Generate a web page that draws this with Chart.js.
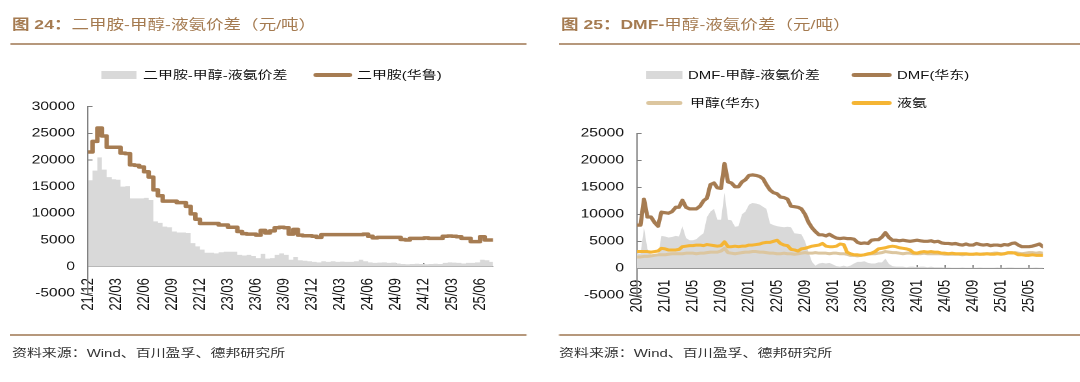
<!DOCTYPE html>
<html><head><meta charset="utf-8">
<script src="https://cdn.jsdelivr.net/npm/chart.js@4.4.1/dist/chart.umd.min.js"></script>
<style>
html,body{margin:0;padding:0;background:#fff;width:1080px;height:382px;overflow:hidden;}
#wrap{position:absolute;left:0;top:0;width:830.77px;height:382px;transform:scaleX(1.3);transform-origin:0 0;}
.t{position:absolute;font-family:"Liberation Sans","Noto Sans CJK SC",sans-serif;white-space:nowrap;}
.title{font-size:13.5px;line-height:16px;color:#a57b51;top:17px;}
.title b{font-weight:700;}
.rule{position:absolute;height:2px;background:#b6987c;}
.leg{font-size:11.5px;line-height:14px;color:#111;}
.sw{position:absolute;}
.src{font-size:11.5px;line-height:16px;color:#333;top:345px;}
canvas{position:absolute;}
</style></head>
<body>
<div id="wrap">
  <div class="t title" style="left:9.2px"><b>图 24：</b>二甲胺-甲醇-液氨价差（元/吨）</div>
  <div class="rule" style="left:7.7px;width:397.7px;top:43px"></div>
  <div class="t title" style="left:431.5px"><b>图 25：DMF-</b>甲醇-液氨价差（元/吨）</div>
  <div class="rule" style="left:430px;width:401px;top:43px"></div>

  <div id="legL"></div>
  <div id="legR"></div>

  <canvas id="cL" width="400" height="250" style="left:0;top:90px"></canvas>
  <canvas id="cR" width="411" height="250" style="left:420px;top:90px"></canvas>

  <div class="rule" style="left:7.7px;width:397.7px;top:333.5px"></div>
  <div class="rule" style="left:430px;width:401px;top:333.5px"></div>
  <div class="t src" style="left:9.2px">资料来源：Wind、百川盈孚、德邦研究所</div>
  <div class="t src" style="left:430px">资料来源：Wind、百川盈孚、德邦研究所</div>
</div>
<script>
// ---------- Chart 24: 二甲胺-甲醇-液氨价差 ----------
const dmaLabels = ['二甲胺-甲醇-液氨价差', '二甲胺(华鲁)'];
const dmaDates = [
'2021-12-01','2021-12-16',
'2022-01-01','2022-01-16','2022-02-01','2022-02-16','2022-03-01','2022-03-16','2022-04-01','2022-04-16','2022-05-01','2022-05-16','2022-06-01','2022-06-16','2022-07-01','2022-07-16','2022-08-01','2022-08-16','2022-09-01','2022-09-16','2022-10-01','2022-10-16','2022-11-01','2022-11-16','2022-12-01','2022-12-16',
'2023-01-01','2023-01-16','2023-02-01','2023-02-16','2023-03-01','2023-03-16','2023-04-01','2023-04-16','2023-05-01','2023-05-16','2023-06-01','2023-06-16','2023-07-01','2023-07-16','2023-08-01','2023-08-16','2023-09-01','2023-09-16','2023-10-01','2023-10-16','2023-11-01','2023-11-16','2023-12-01','2023-12-16',
'2024-01-01','2024-01-16','2024-02-01','2024-02-16','2024-03-01','2024-03-16','2024-04-01','2024-04-16','2024-05-01','2024-05-16','2024-06-01','2024-06-16','2024-07-01','2024-07-16','2024-08-01','2024-08-16','2024-09-01','2024-09-16','2024-10-01','2024-10-16','2024-11-01','2024-11-16','2024-12-01','2024-12-16',
'2025-01-01','2025-01-16','2025-02-01','2025-02-16','2025-03-01','2025-03-16','2025-04-01','2025-04-16','2025-05-01','2025-05-16','2025-06-01','2025-06-16','2025-07-01','2025-07-13'
];
const dmaPrice = [
21500,21500,23500,26000,24500,22400,22400,22400,21300,21200,
19100,19000,18700,17800,16800,14400,13300,12300,12300,12300,
12000,12000,11300,9900,8900,8100,8100,8100,8100,7800,
7800,7400,7400,6600,6200,6100,6100,5900,6800,6300,
6700,7300,7400,7300,6100,7000,5900,5800,5800,5700,
5500,6000,6000,6000,6000,6000,6000,6000,6000,6000,
6100,5700,5400,5500,5500,5500,5500,5500,5100,5000,
5300,5300,5300,5400,5300,5300,5300,5700,5750,5700,
5600,5300,5300,4700,4700,5600,5000,5000
];
const dmaSpread = [
16300,16200,18000,20500,18200,16800,16400,16300,15000,15100,
12800,12800,12800,12900,12500,8500,8200,7500,7400,6600,
6400,6400,6300,4400,3800,3200,2600,2600,2500,2700,
2800,2800,2800,2200,2100,2200,2000,1600,2400,1500,
1600,2200,2500,2200,1300,1800,1200,1100,1000,900,
800,1000,900,1000,900,950,900,900,1000,1300,
1000,800,700,750,800,700,750,600,500,450,
500,550,500,450,500,550,500,700,800,750,
700,600,700,700,800,1300,1200,900
];
const dmaTickLabels = ['21/12','22/03','22/06','22/09','22/12','23/03','23/06','23/09','23/12','24/03','24/06','24/09','24/12','25/03','25/06'];
const dmaYTicks = [-5000,0,5000,10000,15000,20000,25000,30000];

// ---------- Chart 25: DMF-甲醇-液氨价差 ----------
const dmfLabels = ['DMF-甲醇-液氨价差', 'DMF(华东)', '甲醇(华东)', '液氨'];
const dmfDates = [
'2020-09-01','2020-09-16','2020-10-01','2020-10-16','2020-11-01','2020-11-16','2020-12-01','2020-12-16',
'2021-01-01','2021-01-16','2021-02-01','2021-02-16','2021-03-01','2021-03-16','2021-04-01','2021-04-16','2021-05-01','2021-05-16','2021-06-01','2021-06-16','2021-07-01','2021-07-16','2021-08-01','2021-08-16','2021-09-01','2021-09-16','2021-10-01','2021-10-16','2021-11-01','2021-11-16','2021-12-01','2021-12-16',
'2022-01-01','2022-01-16','2022-02-01','2022-02-16','2022-03-01','2022-03-16','2022-04-01','2022-04-16','2022-05-01','2022-05-16','2022-06-01','2022-06-16','2022-07-01','2022-07-16','2022-08-01','2022-08-16','2022-09-01','2022-09-16','2022-10-01','2022-10-16','2022-11-01','2022-11-16','2022-12-01','2022-12-16',
'2023-01-01','2023-01-16','2023-02-01','2023-02-16','2023-03-01','2023-03-16','2023-04-01','2023-04-16','2023-05-01','2023-05-16','2023-06-01','2023-06-16','2023-07-01','2023-07-16','2023-08-01','2023-08-16','2023-09-01','2023-09-16','2023-10-01','2023-10-16','2023-11-01','2023-11-16','2023-12-01','2023-12-16',
'2024-01-01','2024-01-16','2024-02-01','2024-02-16','2024-03-01','2024-03-16','2024-04-01','2024-04-16','2024-05-01','2024-05-16','2024-06-01','2024-06-16','2024-07-01','2024-07-16','2024-08-01','2024-08-16','2024-09-01','2024-09-16','2024-10-01','2024-10-16','2024-11-01','2024-11-16','2024-12-01','2024-12-16',
'2025-01-01','2025-01-16','2025-02-01','2025-02-16','2025-03-01','2025-03-16','2025-04-01','2025-04-16','2025-05-01','2025-05-16','2025-06-01','2025-06-16','2025-07-01'
];
const dmfPrice = [
8000,8000,12800,9500,9500,8500,7800,10400,10300,10200,
10500,11300,11300,12600,11300,11000,11000,11000,11500,12500,
13000,15500,15800,14900,14800,19400,16000,15800,15100,15100,
16000,16400,17200,17300,17200,17000,16600,15500,14500,14000,
13800,13200,13100,12800,11500,11400,11300,11000,10000,8500,
7500,6800,6200,6200,6000,6300,5900,5600,5500,5600,
5500,5500,5400,4800,4600,4700,4600,5200,5300,5300,
5800,6600,5700,5200,5200,5100,5200,5100,5000,5100,
5200,5100,5000,5000,5100,4900,5000,4700,4600,4600,
4500,4600,4400,4300,4500,4300,4300,4600,4400,4300,
4400,4200,4300,4300,4200,4400,4300,4600,4700,4300,
4000,4000,4000,4100,4300,4500,4000
];
const methanolPrice = [
2100,2100,2200,2200,2300,2400,2500,2500,2500,2600,
2700,2700,2700,2700,2800,2800,2800,2700,2800,2800,
2900,3000,3000,3000,3200,3700,2900,2800,2700,2800,
2900,3000,3000,3100,3100,3000,3000,2900,2800,2800,
2700,2700,2800,2700,2700,2600,2700,2800,2900,2800,
2800,2900,2800,2800,2800,2700,2800,2800,2700,2700,
2600,2400,2400,2300,2400,2500,2600,2700,2700,2800,
2900,3100,3000,2900,2900,2800,2700,2800,2800,2700,
2700,2700,2800,2700,2700,2700,2700,2700,2600,2600,
2600,2600,2600,2500,2600,2600,2600,2600,2600,2700,
2700,2700,2800,2800,2700,2700,2800,2800,2900,2800,
2700,2800,2900,2900,2800,2900,2800
];
const ammoniaPrice = [
3100,3100,3100,3100,3000,3100,3200,3700,3600,3400,
3400,3400,3500,4000,4100,4200,4200,4300,4300,4200,
4400,4300,4200,4100,4200,4900,4000,4000,4100,4000,
4100,4100,4300,4300,4400,4500,4700,4800,4800,5000,
5200,4600,4300,4200,3500,3400,3200,3600,3700,3900,
4100,4200,4300,4600,4100,4000,4000,4100,4500,4400,
3000,2700,2500,2500,2400,2500,2700,2800,3100,3600,
3700,3800,4000,4100,4000,3800,3700,3600,3400,2900,
2800,3000,3100,3000,3100,3000,3000,2800,2800,2700,
2800,2700,2700,2700,2700,2600,2600,2700,2600,2600,
2700,2600,2600,2700,2600,2700,2900,2900,2800,2500,
2500,2400,2400,2500,2400,2400,2400
];
const dmfSpread = [
2800,2700,7500,3600,2500,2200,2300,6000,5900,5700,
5800,6000,5900,7800,5600,5200,5200,5400,6000,6500,
9500,10500,11000,9000,9000,14000,9000,8900,7700,7800,
10000,10500,11800,12100,12000,11800,11400,11000,8300,8000,
7800,7700,7600,7700,7600,6500,6400,6300,5000,3000,
1200,500,900,1000,900,1000,700,400,300,500,
300,500,900,1200,1200,1300,1000,900,900,1100,
1100,1800,800,400,300,300,300,200,300,300,
200,300,300,200,300,200,200,200,100,150,
100,100,100,150,100,100,100,100,150,100,
100,100,100,150,100,100,150,150,100,100,
100,100,100,100,150,100,100
];
const dmfTickLabels = ['20/09','21/01','21/05','21/09','22/01','22/05','22/09','23/01','23/05','23/09','24/01','24/05','24/09','25/01','25/05'];
const dmfYTicks = [-5000,0,5000,10000,15000,20000,25000];

// ---------- colours ----------
const cSpread = '#d9d9d9', cBrown = '#a67c52', cTan = '#dcc69f', cOrange = '#f5b534', cAxis = '#808080';

function monthIndex(s, baseY, baseM) {
  const [y, m, d] = s.split('-').map(Number);
  const dim = new Date(y, m, 0).getDate();
  return (y - baseY) * 12 + (m - baseM) + (d - 1) / dim;
}
function tickValue(lbl, baseY, baseM) {
  const [yy, mm] = lbl.split('/').map(Number);
  return (2000 + yy - baseY) * 12 + (mm - baseM);
}
function pts(dates, vals, bY, bM) { return dates.map((d, i) => ({x: monthIndex(d, bY, bM), y: vals[i]})); }

function makeChart(id, o) {
  const tickVals = o.tickLabels.map(l => tickValue(l, o.bY, o.bM));
  const xMax = monthIndex(o.dates[o.dates.length - 1], o.bY, o.bM);
  return new Chart(document.getElementById(id), {
    type: 'line',
    data: { datasets: o.datasets },
    options: {
      responsive: false, animation: false, devicePixelRatio: 2,
      layout: { padding: o.padding },
      plugins: { legend: { display: false }, tooltip: { enabled: false } },
      elements: { point: { radius: 0 }, line: { tension: 0, borderJoinStyle: 'round', borderCapStyle: 'round' } },
      scales: {
        x: {
          type: 'linear', min: 0, max: xMax, position: { y: 0 },
          afterBuildTicks: ax => { ax.ticks = tickVals.map(v => ({ value: v })); },
          afterFit: ax => { ax.paddingLeft = 0; ax.paddingRight = 0; },
          ticks: { autoSkip: false, minRotation: 90, maxRotation: 90, padding: 15.5, color: '#111',
                   font: { family: 'Liberation Sans', size: 13 }, callback: (v, i) => o.tickLabels[i] },
          grid: { drawOnChartArea: false, drawTicks: true, tickLength: -4, color: cAxis, lineWidth: 1 },
          border: { display: true, color: cAxis, width: 1 }
        },
        y: {
          min: o.yTicks[0], max: o.yTicks[o.yTicks.length - 1],
          afterBuildTicks: ax => { ax.ticks = o.yTicks.map(v => ({ value: v })); },
          afterFit: ax => { ax.width = o.yWidth; ax.paddingTop = 0; ax.paddingBottom = 0; },
          ticks: { padding: 13.5, color: '#111', font: { family: 'Liberation Sans', size: 12 }, callback: v => String(v) },
          grid: { drawOnChartArea: false, drawTicks: true, tickLength: -3.5, color: cAxis, lineWidth: 1 },
          border: { display: true, color: cAxis, width: 1 }
        }
      }
    }
  });
}

makeChart('cL', {
  dates: dmaDates, bY: 2021, bM: 12, tickLabels: dmaTickLabels, yTicks: dmaYTicks, yWidth: 67.7,
  padding: { left: 0, right: 20.8, top: 16.7, bottom: 46.7 },
  datasets: [
    { label: dmaLabels[1], data: pts(dmaDates, dmaPrice, 2021, 12), borderColor: cBrown, borderWidth: 3.5, stepped: 'after', fill: false, order: 1 },
    { label: dmaLabels[0], data: pts(dmaDates, dmaSpread, 2021, 12), borderColor: 'rgba(0,0,0,0)', borderWidth: 0, backgroundColor: cSpread, stepped: 'after', fill: 'origin', order: 2 }
  ]
});

makeChart('cR', {
  dates: dmfDates, bY: 2020, bM: 9, tickLabels: dmfTickLabels, yTicks: dmfYTicks, yWidth: 70,
  padding: { left: 0, right: 28.7, top: 43.3, bottom: 44.7 },
  datasets: [
    { label: dmfLabels[3], data: pts(dmfDates, ammoniaPrice, 2020, 9), borderColor: cOrange, borderWidth: 3, fill: false, order: 1 },
    { label: dmfLabels[2], data: pts(dmfDates, methanolPrice, 2020, 9), borderColor: cTan, borderWidth: 3, fill: false, order: 2 },
    { label: dmfLabels[1], data: pts(dmfDates, dmfPrice, 2020, 9), borderColor: cBrown, borderWidth: 3.2, fill: false, order: 3 },
    { label: dmfLabels[0], data: pts(dmfDates, dmfSpread, 2020, 9), borderColor: 'rgba(0,0,0,0)', borderWidth: 0, backgroundColor: cSpread, fill: 'origin', order: 4 }
  ]
});

// ---------- HTML legends ----------
function legendItem(parent, kind, color, x, y, w, text, tx) {
  const s = document.createElement('div');
  s.className = 'sw';
  const h = kind === 'box' ? 7.5 : 3.6;
  s.style.cssText = `left:${x}px;top:${y - h / 2}px;width:${w}px;height:${h}px;background:${color};` + (kind === 'line' ? 'border-radius:2px;' : '');
  parent.appendChild(s);
  const t = document.createElement('div');
  t.className = 't leg';
  t.style.left = tx + 'px'; t.style.top = (y - 7) + 'px';
  t.textContent = text;
  parent.appendChild(t);
}
const legL = document.getElementById('legL'), legR = document.getElementById('legR');
legendItem(legL, 'box', cSpread, 77.7, 75, 27.7, dmaLabels[0], 110);
legendItem(legL, 'line', cBrown, 240.8, 75, 30, dmaLabels[1], 274.6);
legendItem(legR, 'box', cSpread, 496.9, 75, 27.7, dmfLabels[0], 529.2);
legendItem(legR, 'line', cBrown, 655.4, 75, 30.8, dmfLabels[1], 690);
legendItem(legR, 'line', cTan, 496.9, 103, 28.5, dmfLabels[2], 530.8);
legendItem(legR, 'line', cOrange, 655.4, 103, 30.8, dmfLabels[3], 690);
</script>
</body></html>
